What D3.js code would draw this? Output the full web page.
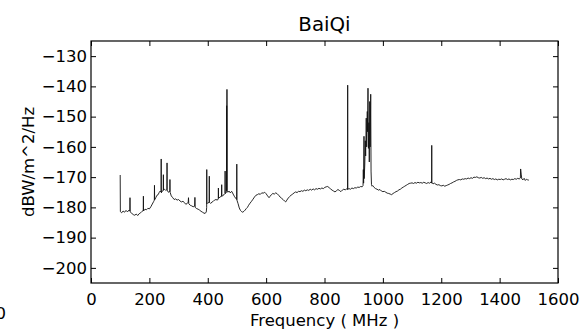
<!DOCTYPE html>
<html>
<head>
<meta charset="utf-8">
<script src="https://cdn.jsdelivr.net/npm/d3@7"></script>
<style>
  html, body { margin: 0; padding: 0; background: #fff; }
  svg { display: block; font-family: "DejaVu Sans", sans-serif; }
</style>
</head>
<body>
<svg id="chart" width="584" height="335"></svg>
<script>
// Measured spectrum of the BaiQi site, frequency in MHz, level in dBW/m^2/Hz
const freqMHz = [
  100, 100.6, 105, 110, 115, 120, 125, 130, 133, 133.6, 134.2, 140, 145, 150, 155, 160, 165, 170, 175, 179, 179.5, 180,
  185, 190, 195, 200, 205, 210, 215, 217, 217.5, 218, 222, 226, 230, 234, 237, 240, 240.5, 241, 244, 247.5, 248, 248.5,
  252, 256, 260, 260.5, 261, 265, 270, 270.5, 271, 275, 280, 285, 290, 295, 300, 305, 310, 315, 320, 325, 330, 333, 334, 335,
  340, 345, 350, 355, 356, 357, 362, 367, 372, 377, 382, 387, 391, 395, 396.3, 396.6, 397, 400, 404.8, 405.3, 405.8,
  410, 415, 419, 423, 428, 433, 436, 436.5, 437, 442, 447, 447.8, 448.5, 452, 456, 459, 459.5, 460, 463, 464.5, 464.8,
  465.2, 465.8, 466.3, 469, 473, 477, 482, 487, 492, 496, 499, 499.5, 500, 504, 508, 512, 516, 520, 524, 528, 532, 536,
  540, 545, 550, 555, 560, 565, 570, 575, 580, 585, 590, 595, 600, 605, 610, 613, 618, 623, 628, 633, 638, 643, 648, 653,
  658, 663, 667, 671, 676, 681, 686, 691, 696, 701, 706, 711, 716, 721, 726, 731, 736, 741, 746, 751, 756, 761, 766, 771,
  776, 781, 786, 791, 796, 801, 806, 811, 816, 821, 826, 831, 836, 841, 846, 851, 856, 861, 866, 871, 876, 879, 879.4,
  879.8, 884, 889, 894, 899, 904, 909, 914, 919, 924, 929, 932, 933, 934, 935.3, 936, 938, 939.8, 941, 943, 944.5, 946.6,
  947.5, 949, 950.5, 952, 953.5, 955, 956.5, 958.3, 959.5, 961, 963, 965, 970, 975, 980, 985, 990, 995, 1000, 1005, 1010,
  1015, 1020, 1025, 1030, 1035, 1040, 1045, 1050, 1055, 1060, 1065, 1070, 1075, 1080, 1085, 1090, 1095, 1100, 1105, 1110,
  1115, 1120, 1125, 1130, 1135, 1140, 1145, 1150, 1155, 1160, 1165, 1167, 1167.4, 1167.8, 1172, 1177, 1182, 1187, 1192,
  1197, 1202, 1207, 1212, 1217, 1222, 1227, 1232, 1237, 1242, 1247, 1252, 1257, 1262, 1267, 1272, 1277, 1282, 1287, 1292,
  1297, 1302, 1307, 1312, 1317, 1322, 1327, 1332, 1337, 1342, 1347, 1352, 1357, 1362, 1367, 1372, 1377, 1382, 1387, 1392,
  1397, 1402, 1407, 1412, 1417, 1422, 1427, 1432, 1437, 1442, 1447, 1452, 1457, 1462, 1467, 1471, 1472, 1474, 1476, 1480,
  1484, 1488, 1492, 1496, 1500
];
const levelDb = [
  -169.3, -181.4, -181.8, -181.2, -181.6, -181.0, -181.5, -180.9, -181.2, -176.8, -181.5, -182.0, -182.4, -182.6, -182.2,
  -182.7, -182.1, -181.8, -181.3, -181.0, -176.3, -181.2,
  -180.6, -180.8, -180.3, -180.5, -179.8, -178.9, -178.0, -177.6, -172.7, -177.5, -176.8, -176.0, -175.8, -175.0, -174.6,
  -174.9, -164.0, -175.2, -174.6, -174.4, -169.2, -174.3,
  -174.0, -174.4, -174.1, -165.3, -174.3, -175.0, -174.7, -170.8, -175.0, -176.2, -176.8, -177.4, -177.2, -177.6, -177.4,
  -177.9, -178.2, -178.0, -178.4, -179.0, -178.6, -178.4, -176.8, -178.8,
  -179.3, -179.5, -179.8, -179.6, -176.7, -180.0, -180.4, -180.6, -180.9, -181.3, -181.6, -181.9, -182.0, -181.5, -180.0,
  -167.5, -178.8, -178.5, -178.4, -169.7, -178.3,
  -178.7, -178.2, -178.0, -177.6, -177.4, -177.6, -177.2, -173.6, -177.0, -176.6, -176.3, -172.5, -176.4, -176.0, -175.8,
  -175.5, -168.0, -175.4, -175.2, -174.8, -146.4,
  -174.5, -141.0, -174.6, -175.0, -174.6, -175.2, -174.7, -175.6, -176.5, -177.0, -177.4, -165.7, -177.6, -178.8, -180.2,
  -181.0, -181.4, -181.6, -181.3, -180.9, -180.4, -180.0,
  -179.3, -178.6, -178.0, -177.3, -176.6, -176.0, -175.8, -175.5, -175.7, -175.2, -175.3, -175.0, -175.5, -176.2, -176.8,
  -176.4, -175.8, -175.4, -175.6, -175.2, -175.5, -176.0, -176.6, -177.0,
  -177.4, -177.9, -178.2, -177.6, -176.9, -176.4, -175.9, -175.6, -175.2, -174.9, -175.1, -174.7, -174.8, -174.5, -174.7,
  -174.3, -174.5, -174.2, -174.4, -174.0, -174.3, -173.9, -174.2, -173.8,
  -174.0, -173.7, -173.9, -173.6, -173.8, -173.4, -173.2, -173.1, -173.5, -173.9, -174.3, -174.6, -174.9, -174.5, -174.1,
  -174.4, -174.8, -174.3, -174.0, -174.2, -173.9, -174.1, -139.6,
  -174.0, -173.8, -174.0, -173.6, -173.8, -173.5, -173.6, -173.3, -173.4, -173.1, -173.2, -172.8, -167.5, -172.0, -156.5,
  -170.5, -166.0, -158.0, -163.0, -150.5, -160.0, -148.3,
  -155.0, -140.6, -160.5, -152.0, -165.0, -145.0, -160.0, -142.6, -168.0, -172.5, -173.0, -172.8, -173.4, -173.8, -174.0,
  -174.3, -174.1, -174.6, -174.8, -174.7, -175.0,
  -175.3, -175.4, -175.6, -175.8, -175.4, -175.1, -174.8, -174.6, -174.2, -174.0, -173.6, -173.3, -173.0, -172.7, -172.4,
  -172.1, -172.0, -171.9, -172.1, -171.8,
  -172.0, -171.7, -171.9, -171.8, -172.0, -171.7, -171.9, -172.1, -171.8, -172.0, -171.6, -172.0, -159.5, -171.8, -172.2,
  -172.0, -172.4, -172.6, -172.5,
  -172.8, -172.9, -172.7, -173.0, -172.8, -172.6, -172.4, -172.1, -171.9, -171.6, -171.4, -171.1, -170.9, -170.8, -170.9,
  -170.6, -170.7, -170.5, -170.6, -170.3,
  -170.5, -170.2, -170.4, -170.0, -170.1, -169.9, -170.2, -170.3, -170.1, -170.4, -170.2, -170.5, -170.3, -170.6, -170.4,
  -170.7, -170.5, -170.8, -170.6, -170.9,
  -170.7, -170.8, -170.6, -170.9, -170.7, -170.5, -170.8, -170.6, -170.9, -170.7, -170.8, -170.5, -170.7, -170.4, -170.6,
  -170.3, -167.3, -169.0, -170.6, -170.9,
  -170.4, -171.1, -170.7, -170.9, -171.0
];

const xTicks = [0, 200, 400, 600, 800, 1000, 1200, 1400, 1600];
const yTicks = [-200, -190, -180, -170, -160, -150, -140, -130];

const titleText = "BaiQi";
const xLabel = "Frequency ( MHz )";
const yLabel = "dBW/m^2/Hz";

const W = 584, H = 335;
const margin = { top: 41, right: 26, bottom: 52, left: 91 };
const iw = W - margin.left - margin.right;
const ih = H - margin.top - margin.bottom;

const svg = d3.select("#chart");
const g = svg.append("g").attr("transform", `translate(${margin.left},${margin.top})`);

const x = d3.scaleLinear().domain([0, 1600]).range([0, iw]);
const y = d3.scaleLinear().domain([-205, -125]).range([ih, 0]);

const fmt = d => d < 0 ? "\u2212" + Math.abs(d) : String(d);
const tickLen = 5;

// spectrum trace
const pts = freqMHz.map((f, i) => [f, levelDb[i]]);
g.append("path")
  .datum(pts)
  .attr("fill", "none")
  .attr("stroke", "#111")
  .attr("stroke-width", 0.9)
  .attr("stroke-linejoin", "round")
  .attr("d", d3.line().x(d => x(d[0])).y(d => y(d[1])));

// axes with inward ticks on all four sides
const axB = g.append("g").attr("transform", `translate(0,${ih})`)
  .call(d3.axisBottom(x).tickValues(xTicks).tickSizeInner(-tickLen).tickSizeOuter(0).tickPadding(10).tickFormat(fmt));
const axT = g.append("g")
  .call(d3.axisTop(x).tickValues(xTicks).tickSizeInner(-tickLen).tickSizeOuter(0).tickFormat(""));
const axL = g.append("g")
  .call(d3.axisLeft(y).tickValues(yTicks).tickSizeInner(-tickLen).tickSizeOuter(0).tickPadding(4).tickFormat(fmt));
const axR = g.append("g").attr("transform", `translate(${iw},0)`)
  .call(d3.axisRight(y).tickValues(yTicks).tickSizeInner(-tickLen).tickSizeOuter(0).tickFormat(""));

[axB, axT, axL, axR].forEach(a => {
  a.select(".domain").remove();
  a.selectAll("line").attr("stroke", "#000").attr("stroke-width", 1);
  a.selectAll("text").attr("fill", "#000").style("font-size", "16.5px").style("font-family", "DejaVu Sans");
});

// frame
g.append("rect")
  .attr("x", 0).attr("y", 0).attr("width", iw).attr("height", ih)
  .attr("fill", "none").attr("stroke", "#000").attr("stroke-width", 1.2);

// title and axis labels
svg.append("text")
  .attr("x", margin.left + iw / 2).attr("y", 31)
  .attr("text-anchor", "middle")
  .style("font-size", "19.8px")
  .text(titleText);

svg.append("text")
  .attr("x", margin.left + iw / 2).attr("y", 326)
  .attr("text-anchor", "middle")
  .style("font-size", "16.5px")
  .text(xLabel);

svg.append("text")
  .attr("transform", `translate(34,${margin.top + ih / 2}) rotate(-90)`)
  .attr("text-anchor", "middle")
  .style("font-size", "16.5px")
  .text(yLabel);

// clipped zero label at the left edge
svg.append("text")
  .attr("x", 6).attr("y", 319)
  .attr("text-anchor", "end")
  .style("font-size", "16.5px")
  .text("0");
</script>
</body>
</html>
